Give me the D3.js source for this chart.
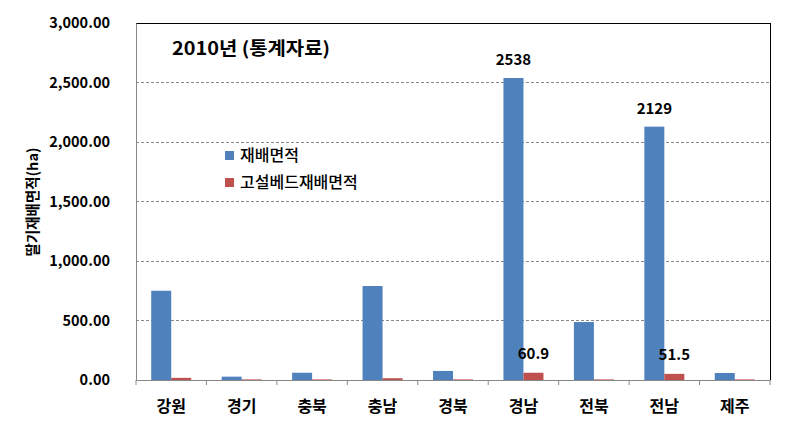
<!DOCTYPE html>
<html><head><meta charset="utf-8">
<script src="https://cdn.jsdelivr.net/npm/d3@7"></script>
<style>body{margin:0;background:#fff}</style>
</head><body>
<svg id="c" width="810" height="422"></svg>
<script>
const categories = ["강원","경기","충북","충남","경북","경남","전북","전남","제주"];
const seriesNames = ["재배면적","고설베드재배면적"];
const area = [750, 28, 61, 790, 76, 2538, 487, 2129, 59];
const bedArea = [18, 5, 5, 15, 5, 60.9, 5, 51.5, 5];
const labelsArea = [null,null,null,null,null,"2538",null,"2129",null];
const labelsBed = [null,null,null,null,null,"60.9",null,"51.5",null];
const yTicks = [0,500,1000,1500,2000,2500,3000];
const title = "2010년 (통계자료)";
const yTitle = "딸기재배면적(ha)";
const colors = ["#4F81BD","#C0504D"];

const svg = d3.select("#c");
const font = "'Noto Sans CJK KR', 'Noto Sans', sans-serif";
const m = {l:136, r:770, t:23, b:380};
const x = d3.scaleBand().domain(categories).range([m.l, m.r]).paddingInner(0).paddingOuter(0);
const y = d3.scaleLinear().domain([0,3000]).range([m.b, m.t]);
const barW = 20;

// gridlines
svg.append("g").selectAll("line").data(yTicks.filter(d=>d>0 && d<3000)).join("line")
  .attr("x1", m.l).attr("x2", m.r).attr("y1", d=>y(d)).attr("y2", d=>y(d))
  .attr("stroke","#888").attr("stroke-dasharray","3,2").attr("stroke-width",1).attr("shape-rendering","crispEdges");

// border top/right
svg.append("line").attr("x1",m.l).attr("x2",m.r).attr("y1",y(3000)).attr("y2",y(3000)).attr("stroke","#000").attr("shape-rendering","crispEdges");
svg.append("line").attr("x1",m.r).attr("x2",m.r).attr("y1",m.t).attr("y2",m.b).attr("stroke","#000").attr("shape-rendering","crispEdges");

// bars
const g = svg.append("g");
g.selectAll("rect.a").data(area).join("rect")
  .attr("x",(d,i)=>x(categories[i])+x.bandwidth()/2-barW).attr("width",barW)
  .attr("y",d=>y(d)).attr("height",d=>y(0)-y(d)).attr("fill",colors[0]);
g.selectAll("rect.b").data(bedArea).join("rect")
  .attr("x",(d,i)=>x(categories[i])+x.bandwidth()/2).attr("width",barW)
  .attr("y",d=>y(d)).attr("height",d=>y(0)-y(d)).attr("fill",colors[1]);

// y axis
const ya = svg.append("g").attr("transform",`translate(${m.l},0)`)
  .call(d3.axisLeft(y).tickValues(yTicks).tickSize(0).tickPadding(26).tickFormat(d3.format(",.2f")));
ya.select(".domain").attr("stroke","#888");
ya.selectAll("text").attr("font-family",font).attr("font-size","14.5px").attr("font-weight","bold").attr("fill","#000");

// x axis
const xa = svg.append("g").attr("transform",`translate(0,${m.b})`)
  .call(d3.axisBottom(x).tickSize(0).tickPadding(21));
xa.select(".domain").attr("stroke","#888");
xa.selectAll("text").attr("font-family",font).attr("font-size","16px").attr("font-weight","bold").attr("fill","#000");
svg.append("g").selectAll("line").data(categories.concat(["end"])).join("line")
  .attr("x1",(d,i)=>m.l+i*x.step()).attr("x2",(d,i)=>m.l+i*x.step())
  .attr("y1",m.b).attr("y2",m.b+5).attr("stroke","#888");

// data labels
svg.selectAll("text.la").data(labelsArea.map((d,i)=>({d,i})).filter(o=>o.d)).join("text").attr("class","la")
  .attr("x",o=>x(categories[o.i])+x.bandwidth()/2-barW/2).attr("y",o=>y(area[o.i])-13)
  .attr("text-anchor","middle").attr("font-family",font).attr("font-size","15px").attr("font-weight","bold").text(o=>o.d);
svg.selectAll("text.lb").data(labelsBed.map((d,i)=>({d,i})).filter(o=>o.d)).join("text").attr("class","lb")
  .attr("x",o=>x(categories[o.i])+x.bandwidth()/2+barW/2).attr("y",o=>y(bedArea[o.i])-14)
  .attr("text-anchor","middle").attr("font-family",font).attr("font-size","15px").attr("font-weight","bold").text(o=>o.d);

// title
svg.append("text").attr("x",172).attr("y",55).attr("font-family",font).attr("font-size","18px").attr("font-weight","bold")
  .attr("textLength",158).attr("lengthAdjust","spacingAndGlyphs").text(title);

// y title
svg.append("text").attr("transform","translate(38,202) rotate(-90)").attr("text-anchor","middle")
  .attr("font-family",font).attr("font-size","14.5px").attr("font-weight","bold").text(yTitle);

// legend
const lg = svg.append("g");
seriesNames.forEach((s,i)=>{
  lg.append("rect").attr("x",225).attr("y",151+i*27).attr("width",9).attr("height",9).attr("fill",colors[i]);
  lg.append("text").attr("x",240).attr("y",161+i*27).attr("font-family",font).attr("font-size","16px").attr("font-weight","500").text(s);
});
</script>
</body></html>
